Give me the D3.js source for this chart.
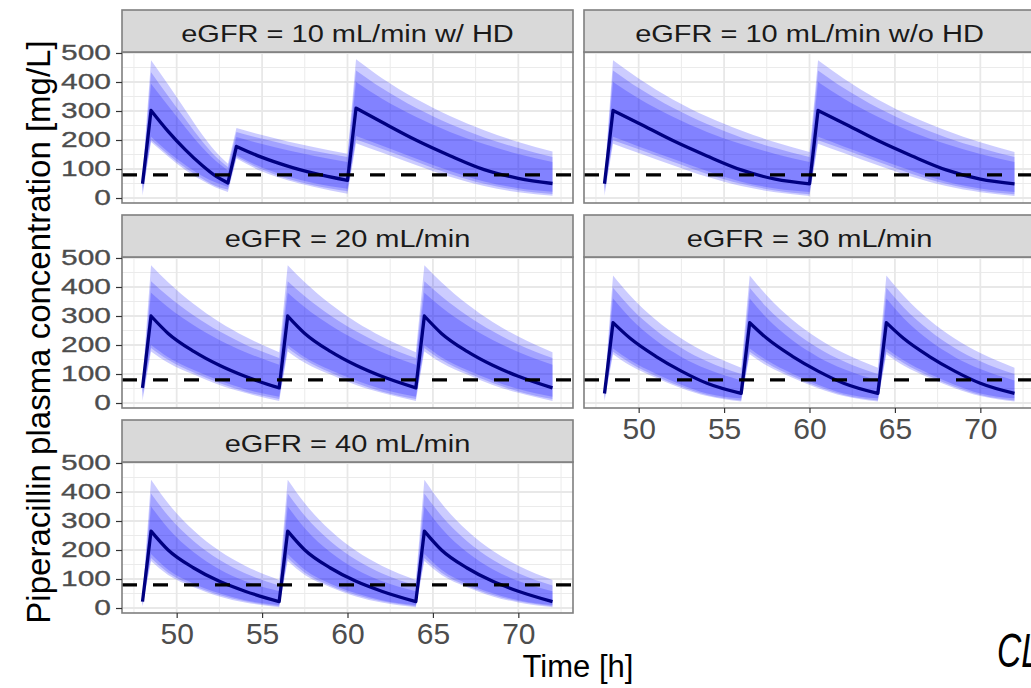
<!DOCTYPE html>
<html>
<head>
<meta charset="utf-8">
<script src="https://cdn.jsdelivr.net/npm/d3@7"></script>
<style>
  body { margin: 0; background: #fff; }
  text { font-family: "Liberation Sans", Arial, sans-serif; }
</style>
</head>
<body>
<div id="graph"></div>
<script>
// --- data (mg/L vs h) ---
var timeA = [48, 48.5, 49.5, 50.5, 51.5, 52.25, 53, 53.5, 55, 56.5, 58, 60, 60.5, 62, 64, 66, 68, 70, 72];
var medA  = [49, 302, 230, 167, 112, 77, 52, 178, 140, 110, 86, 61, 310, 262, 200, 146, 98, 68, 50];
var hi95A = [75, 475, 391, 304, 218, 162, 118, 241, 217, 195, 176, 153, 478, 414, 342, 283, 234, 193, 160];
var hi90A = [68, 434, 352, 272, 195, 145, 107, 228, 204, 183, 163, 141, 440, 379, 311, 255, 209, 172, 141];
var hi75A = [60, 394, 318, 244, 174, 130, 95, 210, 186, 165, 146, 124, 400, 343, 280, 228, 186, 152, 124];
var lo25A = [32, 211, 159, 114, 76, 54, 38, 147, 105, 74, 52, 32, 214, 181, 136, 93, 57, 34, 22];
var lo10A = [20, 200, 150, 104, 66, 42, 29, 141, 98, 66, 44, 23, 202, 170, 126, 83, 49, 27, 14];
var lo5A  = [8, 193, 143, 97, 60, 37, 21, 136, 91, 61, 39, 15, 189, 157, 114, 73, 41, 20, 8];

var timeB = [48, 48.5, 50, 52, 54, 56, 58, 60, 60.5, 62, 64, 66, 68, 70, 72];
var medB  = [49, 302, 258, 198, 145, 97, 65, 49, 302, 258, 198, 145, 97, 65, 49];
var hi95B = [75, 475, 412, 340, 281, 233, 192, 159, 475, 412, 340, 281, 233, 192, 159];
var hi90B = [68, 440, 379, 311, 255, 209, 172, 141, 440, 379, 311, 255, 209, 172, 141];
var hi75B = [60, 400, 343, 280, 228, 186, 152, 124, 400, 343, 280, 228, 186, 152, 124];
var lo25B = [32, 211, 178, 135, 93, 56, 33, 21, 211, 178, 135, 93, 56, 33, 21];
var lo10B = [20, 199, 168, 125, 83, 49, 26, 13, 199, 168, 125, 83, 49, 26, 13];
var lo5B  = [8, 187, 155, 113, 73, 41, 20, 7, 187, 155, 113, 73, 41, 20, 7];

var time8h = [48, 48.5, 49.5, 51, 52.5, 54, 56, 56.5, 57.5, 59, 60.5, 62, 64, 64.5, 65.5, 67, 68.5, 70, 72];

var medC  = [52, 300, 240, 178, 130, 92, 52, 300, 240, 178, 130, 92, 52, 300, 240, 178, 130, 92, 52];
var hi95C = [80, 475, 416, 341, 279, 229, 175, 475, 416, 341, 279, 229, 175, 475, 416, 341, 279, 229, 175];
var hi90C = [70, 420, 368, 302, 247, 202, 155, 420, 368, 302, 247, 202, 155, 420, 368, 302, 247, 202, 155];
var hi75C = [62, 380, 330, 268, 217, 176, 132, 380, 330, 268, 217, 176, 132, 380, 330, 268, 217, 176, 132];
var lo25C = [35, 200, 158, 114, 78, 48, 22, 200, 158, 114, 78, 48, 22, 200, 158, 114, 78, 48, 22];
var lo10C = [20, 190, 149, 105, 69, 40, 14, 190, 149, 105, 69, 40, 14, 190, 149, 105, 69, 40, 14];
var lo5C  = [8, 178, 139, 98, 62, 35, 7, 178, 139, 98, 62, 35, 7, 178, 139, 98, 62, 35, 7];

var medD  = [33, 277, 223, 161, 110, 68, 33, 277, 223, 161, 110, 68, 33, 277, 223, 161, 110, 68, 33];
var hi95D = [55, 440, 371, 287, 222, 172, 122, 440, 371, 287, 222, 172, 122, 440, 371, 287, 222, 172, 122];
var hi90D = [48, 397, 330, 251, 190, 144, 100, 397, 330, 251, 190, 144, 100, 397, 330, 251, 190, 144, 100];
var hi75D = [42, 360, 293, 216, 159, 117, 78, 360, 293, 216, 159, 117, 78, 360, 293, 216, 159, 117, 78];
var lo25D = [22, 188, 147, 101, 63, 33, 16, 188, 147, 101, 63, 33, 16, 188, 147, 101, 63, 33, 16];
var lo10D = [14, 177, 138, 93, 56, 28, 9, 177, 138, 93, 56, 28, 9, 177, 138, 93, 56, 28, 9];
var lo5D  = [6, 168, 129, 87, 51, 24, 5, 168, 129, 87, 51, 24, 5, 168, 129, 87, 51, 24, 5];

var medE  = [22, 265, 200, 138, 92, 58, 22, 265, 200, 138, 92, 58, 22, 265, 200, 138, 92, 58, 22];
var hi95E = [38, 442, 361, 267, 197, 146, 97, 442, 361, 267, 197, 146, 97, 442, 361, 267, 197, 146, 97];
var hi90E = [33, 395, 318, 230, 166, 120, 78, 395, 318, 230, 166, 120, 78, 395, 318, 230, 166, 120, 78];
var hi75E = [28, 350, 275, 192, 134, 93, 58, 350, 275, 192, 134, 93, 58, 350, 275, 192, 134, 93, 58];
var lo25E = [12, 186, 132, 84, 51, 27, 10, 186, 132, 84, 51, 27, 10, 186, 132, 84, 51, 27, 10];
var lo10E = [8, 172, 122, 77, 45, 23, 6, 172, 122, 77, 45, 23, 6, 172, 122, 77, 45, 23, 6];
var lo5E  = [4, 162, 114, 72, 40, 19, 3, 162, 114, 72, 40, 19, 3, 162, 114, 72, 40, 19, 3];

var targetConc = 80;
var xTicks = [50, 55, 60, 65, 70];
var xMinor = [47.5, 52.5, 57.5, 62.5, 67.5, 72.5];
var yTicks = [0, 100, 200, 300, 400, 500];
var yMinor = [50, 150, 250, 350, 450];

var panels = [
  {title: "eGFR = 10 mL/min w/ HD",  row: 0, col: 0, t: timeA,  med: medA, bands: [[lo5A, hi95A], [lo10A, hi90A], [lo25A, hi75A]]},
  {title: "eGFR = 10 mL/min w/o HD", row: 0, col: 1, t: timeB,  med: medB, bands: [[lo5B, hi95B], [lo10B, hi90B], [lo25B, hi75B]]},
  {title: "eGFR = 20 mL/min",        row: 1, col: 0, t: time8h, med: medC, bands: [[lo5C, hi95C], [lo10C, hi90C], [lo25C, hi75C]]},
  {title: "eGFR = 30 mL/min",        row: 1, col: 1, t: time8h, med: medD, bands: [[lo5D, hi95D], [lo10D, hi90D], [lo25D, hi75D]], xaxis: true},
  {title: "eGFR = 40 mL/min",        row: 2, col: 0, t: time8h, med: medE, bands: [[lo5E, hi95E], [lo10E, hi90E], [lo25E, hi75E]], xaxis: true}
];

// --- layout ---
var width = 1031, height = 688;
var panelW = 451, panelH = 151, stripH = 42;
var colX = [122, 584], rowY = [10, 215, 420];

var x = d3.scaleLinear().domain([46.8, 73.2]).range([0, panelW]);
var y = d3.scaleLinear().domain([-17.2, 503.4]).range([panelH, 0]);

var svg = d3.select("#graph").append("svg")
    .attr("width", width)
    .attr("height", height);

var edge = d3.line()
    .x(function(d) { return x(d[0]); })
    .y(function(d) { return y(d[1]); })
    .curve(d3.curveMonotoneX);

// split at every dose (local extremum of the median) so the peaks stay sharp
function segments(med) {
  var breaks = [0];
  for (var i = 1; i < med.length - 1; i++) {
    if ((med[i] - med[i - 1]) * (med[i + 1] - med[i]) < 0) breaks.push(i);
  }
  breaks.push(med.length - 1);
  var segs = [];
  for (var k = 0; k < breaks.length - 1; k++) segs.push([breaks[k], breaks[k + 1]]);
  return segs;
}

function edgePath(pts, segs, reverse) {
  var parts = segs.map(function(s) { return pts.slice(s[0], s[1] + 1); });
  if (reverse) parts = parts.reverse().map(function(p) { return p.slice().reverse(); });
  return parts.map(function(p, i) {
    var d = edge(p);
    return i ? "L" + d.slice(1) : d;
  }).join("");
}

function zip(t, v) { return t.map(function(d, i) { return [d, v[i]]; }); }

panels.forEach(function(p) {
  var g = svg.append("g")
      .attr("transform", "translate(" + colX[p.col] + "," + (rowY[p.row] + stripH) + ")");

  g.append("rect").attr("width", panelW).attr("height", panelH).attr("fill", "#fff");

  // grid
  g.selectAll(".gxm").data(xMinor).enter().append("line")
      .attr("x1", x).attr("x2", x).attr("y1", 0).attr("y2", panelH)
      .attr("stroke", "#ebebeb").attr("stroke-width", 1);
  g.selectAll(".gym").data(yMinor).enter().append("line")
      .attr("y1", y).attr("y2", y).attr("x1", 0).attr("x2", panelW)
      .attr("stroke", "#ebebeb").attr("stroke-width", 1);
  g.selectAll(".gx").data(xTicks).enter().append("line")
      .attr("x1", x).attr("x2", x).attr("y1", 0).attr("y2", panelH)
      .attr("stroke", "#e8e8e8").attr("stroke-width", 1.8);
  g.selectAll(".gy").data(yTicks).enter().append("line")
      .attr("y1", y).attr("y2", y).attr("x1", 0).attr("x2", panelW)
      .attr("stroke", "#e8e8e8").attr("stroke-width", 1.8);

  var segs = segments(p.med);

  // prediction bands
  p.bands.forEach(function(b) {
    var d = edgePath(zip(p.t, b[1]), segs, false) + "L" + edgePath(zip(p.t, b[0]), segs, true).slice(1) + "Z";
    g.append("path")
        .attr("d", d)
        .attr("fill", "#0000ff")
        .attr("fill-opacity", 0.2);
  });

  // median
  g.append("path")
      .attr("d", edgePath(zip(p.t, p.med), segs, false))
      .attr("fill", "none")
      .attr("stroke", "#000080")
      .attr("stroke-width", 3.3)
      .attr("stroke-linejoin", "round");

  // target concentration
  g.append("line")
      .attr("x1", 0).attr("x2", panelW)
      .attr("y1", y(targetConc)).attr("y2", y(targetConc))
      .attr("stroke", "#000")
      .attr("stroke-width", 3.2)
      .attr("stroke-dasharray", "15,16");

  g.append("rect")
      .attr("width", panelW).attr("height", panelH)
      .attr("fill", "none").attr("stroke", "#7f7f7f").attr("stroke-width", 1.6);

  // strip
  g.append("rect")
      .attr("y", -stripH).attr("width", panelW).attr("height", stripH)
      .attr("fill", "#d9d9d9").attr("stroke", "#7f7f7f").attr("stroke-width", 1.6);
  g.append("text")
      .attr("transform", "translate(" + (panelW / 2) + "," + (-stripH + 31.5) + ") scale(1,0.82)")
      .attr("text-anchor", "middle")
      .attr("font-size", 29)
      .attr("fill", "#1a1a1a")
      .text(p.title);

  if (p.col === 0) {
    var ya = g.append("g")
        .call(d3.axisLeft(y).tickValues(yTicks).tickSize(6).tickSizeOuter(0).tickPadding(5));
    ya.select(".domain").remove();
    ya.selectAll("line").attr("stroke", "#333").attr("stroke-width", 1.2);
    ya.selectAll("text")
        .attr("font-size", 30)
        .attr("font-family", "Liberation Sans, Arial, sans-serif")
        .attr("fill", "#4d4d4d")
        .attr("stroke", "#4d4d4d")
        .attr("stroke-width", 0.4)
        .attr("transform", "scale(1,0.72)");
  }

  if (p.xaxis) {
    var xa = g.append("g")
        .attr("transform", "translate(0," + panelH + ")")
        .call(d3.axisBottom(x).tickValues(xTicks).tickSize(5).tickSizeOuter(0).tickPadding(5));
    xa.select(".domain").remove();
    xa.selectAll("line").attr("stroke", "#333").attr("stroke-width", 1.2);
    xa.selectAll("text")
        .attr("font-size", 30)
        .attr("font-family", "Liberation Sans, Arial, sans-serif")
        .attr("fill", "#4d4d4d");
  }
});

// axis titles
svg.append("text")
    .attr("x", 578).attr("y", 677)
    .attr("text-anchor", "middle")
    .attr("font-size", 31)
    .attr("fill", "#000")
    .text("Time [h]");

svg.append("text")
    .attr("transform", "translate(50,332) rotate(-90)")
    .attr("text-anchor", "middle")
    .attr("font-size", 33)
    .attr("fill", "#000")
    .text("Piperacillin plasma concentration [mg/L]");

// equation label at the lower right, cut by the figure edge as in the source
svg.append("text")
    .attr("transform", "translate(997,667) scale(0.7,1)")
    .attr("font-family", "Liberation Serif, serif")
    .attr("font-style", "italic")
    .attr("font-size", 48)
    .attr("fill", "#000")
    .text("CL");
</script>
</body>
</html>
